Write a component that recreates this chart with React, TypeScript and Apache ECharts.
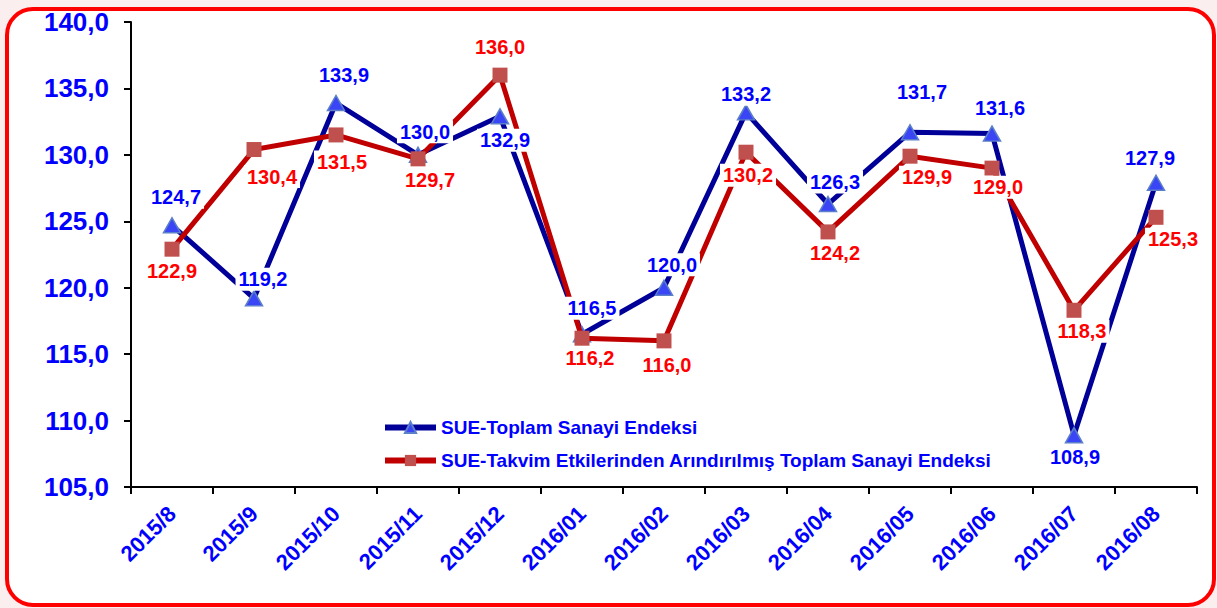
import React, { useEffect, useRef } from "react";
import * as echarts from "echarts";

const categories = [
  "2015/8", "2015/9", "2015/10", "2015/11", "2015/12", "2016/01", "2016/02",
  "2016/03", "2016/04", "2016/05", "2016/06", "2016/07", "2016/08",
];
const sueTotal = [124.7, 119.2, 133.9, 130.0, 132.9, 116.5, 120.0, 133.2, 126.3, 131.7, 131.6, 108.9, 127.9];
const sueCalendarAdj = [122.9, 130.4, 131.5, 129.7, 136.0, 116.2, 116.0, 130.2, 124.2, 129.9, 129.0, 118.3, 125.3];
const seriesNames = [
  "SUE-Toplam Sanayi Endeksi",
  "SUE-Takvim Etkilerinden Arındırılmış Toplam Sanayi Endeksi",
];

// label offsets (style only)
const blueOffsets = [[4, -28], [9, -19], [8, -28], [7, -23], [5, 24], [10, -26], [8, -23], [0, -18], [7, -22], [12, -40], [8, -26], [1, 22], [-6, -25]];
const redOffsets = [[0, 22], [18, 27], [6, 27], [12, 21], [0, -28], [8, 20], [3, 24], [2, 23], [7, 21], [17, 21], [6, 19], [8, 21], [17, 22]];

const fmt = (v: number) => v.toFixed(1).replace(".", ",");
const FONT = "Liberation Sans, Arial, sans-serif";

export default function App() {
  const ref = useRef<HTMLDivElement>(null);
  useEffect(() => {
    if (!ref.current) return;
    const chart = echarts.init(ref.current, null, { renderer: "svg" });
    const labelData = (vals: number[], offs: number[][], color: string) =>
      vals.map((v, i) => ({
        value: v,
        label: {
          show: true,
          position: "inside",
          offset: offs[i],
          formatter: () => fmt(v),
          color,
          fontFamily: FONT,
          fontWeight: "bold",
          fontSize: 20,
          backgroundColor: "#ffffff",
          padding: [2, 3, 1, 3],
        },
      }));
    chart.setOption({
      animation: false,
      backgroundColor: "#fbeeee",
      graphic: [
        {
          type: "rect",
          z: -10,
          silent: true,
          shape: { x: 7, y: 9, width: 1207, height: 596, r: 26 },
          style: { fill: "#ffffff", stroke: "#ff0000", lineWidth: 4 },
        },
      ],
      grid: { left: 131, right: 20, top: 22, bottom: 121, containLabel: false },
      legend: {
        orient: "vertical",
        left: 377,
        top: 413,
        itemWidth: 51,
        itemHeight: 14,
        itemGap: 14,
        data: seriesNames,
        lineStyle: { width: 6 },
        textStyle: {
          color: "#0000ff",
          fontWeight: "bold",
          fontSize: 19,
          fontFamily: FONT,
        },
      },
      xAxis: {
        type: "category",
        data: categories,
        boundaryGap: true,
        axisLine: { lineStyle: { color: "#000000", width: 2 } },
        axisTick: { show: true, length: 7, inside: false, lineStyle: { color: "#000", width: 2 } },
        axisLabel: {
          rotate: 45,
          margin: 23,
          color: "#0000ff",
          fontWeight: "bold",
          fontSize: 22,
          fontFamily: FONT,
        },
        splitLine: { show: false },
      },
      yAxis: {
        type: "value",
        min: 105,
        max: 140,
        interval: 5,
        axisLine: { show: true, lineStyle: { color: "#000000", width: 2 } },
        axisTick: { show: true, length: 7, lineStyle: { color: "#000", width: 2 } },
        splitLine: { show: false },
        axisLabel: {
          formatter: (v: number) => fmt(v),
          margin: 22,
          color: "#0000ff",
          fontWeight: "bold",
          fontSize: 26,
          fontFamily: FONT,
        },
      },
      series: [
        {
          name: seriesNames[0],
          type: "line",
          data: sueTotal,
          z: 2,
          lineStyle: { color: "#000099", width: 5 },
          itemStyle: { color: "#3a46f5", borderColor: "#5b7fc8", borderWidth: 1.5 },
          symbol: "triangle",
          symbolSize: [17, 15],
          showAllSymbol: true,
          label: { show: false },
        },
        {
          name: seriesNames[1],
          type: "line",
          data: sueCalendarAdj,
          z: 3,
          lineStyle: { color: "#c00000", width: 5 },
          itemStyle: { color: "#c0504d", borderColor: "#c0504d", borderWidth: 0 },
          symbol: "rect",
          symbolSize: 15,
          showAllSymbol: true,
          label: { show: false },
        },
        {
          type: "scatter",
          data: labelData(sueTotal, blueOffsets, "#0000ff"),
          z: 10,
          symbolSize: 1,
          itemStyle: { color: "rgba(0,0,0,0)", opacity: 1 },
          silent: true,
          tooltip: { show: false },
        },
        {
          type: "scatter",
          data: labelData(sueCalendarAdj, redOffsets, "#ff0000"),
          z: 10,
          symbolSize: 1,
          itemStyle: { color: "rgba(0,0,0,0)", opacity: 1 },
          silent: true,
          tooltip: { show: false },
        },
      ],
    });
    return () => chart.dispose();
  }, []);
  return (
    <div
      ref={ref}
      style={{ position: "fixed", left: 0, top: 0, width: 1217, height: 608 }}
    />
  );
}
